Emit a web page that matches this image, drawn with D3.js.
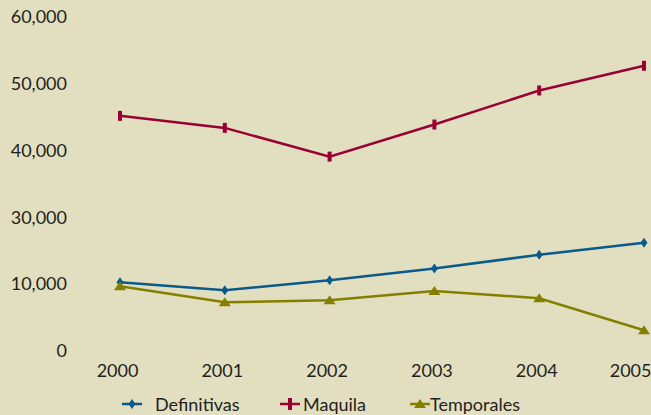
<!DOCTYPE html>
<html>
<head>
<meta charset="utf-8">
<script src="https://cdn.jsdelivr.net/npm/d3@7"></script>
<style>
  body { margin: 0; background: #e2dfc0; }
  text { font-family: Lato, "Open Sans", sans-serif; fill: #231f20; }
</style>
</head>
<body>
<div id="chart"></div>
<script>
const years = [2000, 2001, 2002, 2003, 2004, 2005];
const yTicks = [0, 10000, 30000, 40000, 50000, 60000];
const definitivas = [10600, 9100, 11200, 14700, 18800, 22400];
const maquila = [45200, 43400, 39100, 43900, 49000, 52700];
const temporales = [9700, 7300, 7600, 9000, 7900, 3100];

const seriesNames = ["Definitivas", "Maquila", "Temporales"];

document.addEventListener("DOMContentLoaded", function () {
  const width = 651;
  const height = 415;

  const svg = d3
    .select("#chart")
    .append("svg")
    .attr("width", width)
    .attr("height", height);

  svg
    .append("rect")
    .attr("width", width)
    .attr("height", height)
    .attr("fill", "#e2dfc0");

  const xScale = d3.scaleLinear().domain([2000, 2005]).range([120, 644]);

  // tick labels are evenly spaced even though 20,000 is skipped
  const top = 17;
  const bottom = 351;
  const step = (bottom - top) / (yTicks.length - 1);
  const yScale = d3
    .scaleLinear()
    .domain(yTicks)
    .range(yTicks.map((d, i) => bottom - i * step));

  const yAxis = d3
    .axisLeft(yScale)
    .tickValues(yTicks)
    .tickFormat(d3.format(","))
    .tickSize(0)
    .tickPadding(3);

  const xAxis = d3
    .axisBottom(xScale)
    .tickValues(years)
    .tickFormat(d3.format("d"))
    .tickSize(0)
    .tickPadding(3);

  const gy = svg.append("g").attr("transform", "translate(70, 0)").call(yAxis);
  const gx = svg.append("g").attr("transform", "translate(-3, 361)").call(xAxis);

  [gx, gy].forEach((g) => {
    g.select(".domain").remove();
    g.selectAll("text")
      .style("font-size", "18px")
      .style("font-family", "Lato, 'Open Sans', sans-serif")
      .attr("fill", "#231f20");
  });

  // last year label sits against the right edge
  gx.selectAll(".tick")
    .filter((d) => d === 2005)
    .select("text")
    .attr("text-anchor", "end")
    .attr("x", width - xScale(2005) + 3);

  const series = [
    { name: seriesNames[0], values: definitivas, color: "#0b5a8a", marker: "diamond" },
    { name: seriesNames[1], values: maquila, color: "#990033", marker: "bar" },
    { name: seriesNames[2], values: temporales, color: "#857f00", marker: "triangle" },
  ];

  const line = d3
    .line()
    .x((d, i) => xScale(years[i]))
    .y((d) => yScale(d));

  function drawMarker(g, type, color) {
    if (type === "diamond") {
      g.append("path").attr("d", "M0,-5L3.5,0L0,5L-3.5,0Z").attr("fill", color);
    } else if (type === "bar") {
      g.append("rect")
        .attr("x", -2)
        .attr("y", -5)
        .attr("width", 4)
        .attr("height", 10)
        .attr("fill", color);
    } else {
      g.append("path").attr("d", "M0,-5L6,4L-6,4Z").attr("fill", color);
    }
  }

  series.forEach((s) => {
    svg
      .append("path")
      .datum(s.values)
      .attr("fill", "none")
      .attr("stroke", s.color)
      .attr("stroke-width", 2.5)
      .attr("d", line);

    s.values.forEach((v, i) => {
      const g = svg
        .append("g")
        .attr("transform", `translate(${xScale(years[i])}, ${yScale(v)})`);
      drawMarker(g, s.marker, s.color);
    });
  });

  // legend
  const legendX = [122, 280, 410];
  series.forEach((s, i) => {
    const g = svg.append("g").attr("transform", `translate(${legendX[i]}, 404)`);
    g.append("line")
      .attr("x1", 0)
      .attr("x2", 20)
      .attr("stroke", s.color)
      .attr("stroke-width", 2.5);
    const m = g.append("g").attr("transform", "translate(10, 0)");
    if (s.marker === "bar") {
      m.append("rect")
        .attr("x", -2)
        .attr("y", -6)
        .attr("width", 4)
        .attr("height", 12)
        .attr("fill", s.color);
    } else {
      drawMarker(m, s.marker, s.color);
    }
    g.append("text")
      .attr("x", i === 0 ? 33 : i === 1 ? 23 : 20)
      .attr("y", 7)
      .style("font-size", "18px")
      .text(s.name);
  });
});
</script>
</body>
</html>
